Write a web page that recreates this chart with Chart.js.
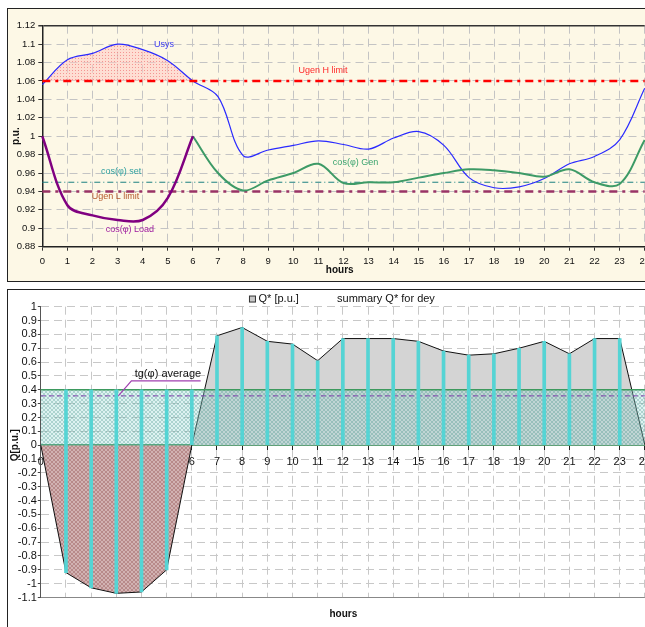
<!DOCTYPE html>
<html>
<head>
<meta charset="utf-8">
<title>Usys / cos(φ) / Q*</title>
<script src="https://cdn.jsdelivr.net/npm/chart.js@4.4.0/dist/chart.umd.min.js"></script>
<style>
html, body { margin: 0; padding: 0; background: #fff; overflow: hidden; width: 645px; height: 627px; }
#topBox { position: absolute; left: 7px; top: 8px; width: 660px; height: 272px; background: #fdf8e6; border: 1px solid #222; }
#bottomBox { position: absolute; left: 7px; top: 289px; width: 660px; height: 345px; background: #fff; border: 1px solid #222; }
canvas { display: block; }
</style>
</head>
<body>
<div id="topBox"><canvas id="topChart" width="660" height="272"></canvas></div>
<div id="bottomBox"><canvas id="bottomChart" width="660" height="340"></canvas></div>
<script>
// hours of the day
const hours = ['0','1','2','3','4','5','6','7','8','9','10','11','12','13','14','15','16','17','18','19','20','21','22','23','24'];

// upper chart, p.u.
const uSys    = [1.056, 1.083, 1.090, 1.100, 1.094, 1.082, 1.060, 1.043, 0.979, 0.985, 0.990, 0.995, 0.991, 0.986, 0.998, 1.005, 0.990, 0.955, 0.944, 0.945, 0.954, 0.970, 0.978, 0.996, 1.052];
const cosGen  = [null, null, null, null, null, null, 1.000, 0.960, 0.941, 0.952, 0.960, 0.970, 0.949, 0.950, 0.950, 0.955, 0.960, 0.964, 0.963, 0.960, 0.956, 0.964, 0.950, 0.948, 0.996];
const cosLoad = [1.000, 0.925, 0.914, 0.909, 0.909, 0.933, 1.000, null, null, null, null, null, null, null, null, null, null, null, null, null, null, null, null, null, null];
const uGenHigh = 1.06;
const uGenLow = 0.94;
const cosSet = 0.95;

// lower chart, p.u.
const qStar = [0, -0.92, -1.03, -1.07, -1.06, -0.90, 0, 0.79, 0.85, 0.75, 0.73, 0.61, 0.77, 0.77, 0.77, 0.75, 0.68, 0.65, 0.66, 0.70, 0.75, 0.66, 0.77, 0.77, 0];
const tgBand = 0.4;
const tgAverage = 0.356;

const FONT = '"Liberation Sans", Arial, sans-serif';

function pattern(canvasId, size, bg, fg, cells) {
    const tile = document.createElement('canvas');
    tile.width = tile.height = size;
    const g = tile.getContext('2d');
    g.fillStyle = bg;
    g.fillRect(0, 0, size, size);
    g.fillStyle = fg;
    cells.forEach(c => g.fillRect(c[0], c[1], 1, 1));
    return document.getElementById(canvasId).getContext('2d').createPattern(tile, 'repeat');
}
const cross = [[0,0],[1,1],[2,2],[3,3],[3,0],[2,1],[1,2],[0,3]];

// text, leader lines and the little legend box, placed in data units
function notes(items) {
    return {
        id: 'notes',
        afterDraw(chart) {
            const ctx = chart.ctx;
            const xs = chart.scales.x, ys = chart.scales.y;
            ctx.save();
            items.forEach(it => {
                if (it.line) {
                    ctx.strokeStyle = it.color;
                    ctx.lineWidth = it.width || 1;
                    ctx.beginPath();
                    it.line.forEach((p, i) => {
                        const px = xs.getPixelForValue(p[0]), py = ys.getPixelForValue(p[1]);
                        if (i === 0) ctx.moveTo(px, py); else ctx.lineTo(px, py);
                    });
                    ctx.stroke();
                    return;
                }
                const px = xs.getPixelForValue(it.x), py = ys.getPixelForValue(it.y);
                if (it.box) {
                    ctx.fillStyle = '#c8c8c8';
                    ctx.strokeStyle = '#333';
                    ctx.lineWidth = 1;
                    ctx.fillRect(px, py, it.box, it.box);
                    ctx.strokeRect(px, py, it.box, it.box);
                    return;
                }
                ctx.fillStyle = it.color || '#000';
                ctx.font = it.font;
                ctx.textAlign = it.align || 'center';
                ctx.textBaseline = 'middle';
                if (it.rotate) {
                    ctx.save();
                    ctx.translate(px, py);
                    ctx.rotate(-Math.PI / 2);
                    ctx.fillText(it.text, 0, 0);
                    ctx.restore();
                } else {
                    ctx.fillText(it.text, px, py);
                }
            });
            ctx.restore();
        }
    };
}

const fmt = v => String(Math.round(v * 100) / 100);

// ---------- upper chart ----------
const pinkDots = pattern('topChart', 3, 'rgba(255,200,195,0.55)', 'rgba(240,120,120,0.7)', [[1,1]]);

const topNotes = [
    { text: 'Usys', x: 4.85, y: 1.0998, color: '#3a3af0', font: '9px ' + FONT },
    { text: 'Ugen H limit', x: 11.18, y: 1.0718, color: '#ff2a2a', font: '9px ' + FONT },
    { text: 'cos(φ) set', x: 3.14, y: 0.962, color: '#2f9f9f', font: '9px ' + FONT },
    { text: 'Ugen L limit', x: 2.92, y: 0.934, color: '#b4582c', font: '9px ' + FONT },
    { text: 'cos(φ) Load', x: 3.49, y: 0.8987, color: '#a020a0', font: '9px ' + FONT },
    { text: 'cos(φ) Gen', x: 12.48, y: 0.9715, color: '#3aa46e', font: '9px ' + FONT },
    { text: 'hours', x: 11.85, y: 0.854, color: '#111', font: 'bold 10px ' + FONT },
    { text: 'p.u.', x: -1.02, y: 1.0, color: '#111', font: 'bold 10px ' + FONT, rotate: true }
];

new Chart(document.getElementById('topChart'), {
    type: 'line',
    data: {
        labels: hours,
        datasets: [
            { label: 'cos(φ) Load', data: cosLoad, borderColor: '#800080', borderWidth: 2.5, order: 0 },
            { label: 'Ugen H limit', data: hours.map(() => uGenHigh), borderColor: '#ff0000', borderWidth: 2.5, borderDash: [8, 5, 3, 5], tension: 0, order: 1 },
            { label: 'cos(φ) Gen', data: cosGen, borderColor: '#3d9a66', borderWidth: 2, order: 2 },
            { label: 'Usys', data: uSys, borderColor: '#2a2aff', borderWidth: 1.2, order: 3,
              fill: { target: { value: uGenHigh }, above: pinkDots, below: 'rgba(0,0,0,0)' } },
            { label: 'Ugen L limit', data: hours.map(() => uGenLow), borderColor: '#993366', borderWidth: 2.5, borderDash: [8, 5, 3, 5], tension: 0, order: 4 },
            { label: 'cos(φ) set', data: hours.map(() => cosSet), borderColor: '#1a8080', borderWidth: 1, borderDash: [6, 3, 1, 3], tension: 0, order: 5 }
        ]
    },
    options: {
        responsive: false,
        animation: false,
        events: [],
        elements: { point: { radius: 0 }, line: { tension: 0.35, fill: false } },
        layout: { padding: { left: 0, right: 23.3, top: 16.7, bottom: 0 } },
        plugins: { legend: { display: false }, tooltip: { enabled: false } },
        scales: {
            x: {
                grid: { color: '#c4c4c4', tickLength: 4, tickColor: '#333' },
                border: { color: '#222', width: 1.5, dash: [8, 5] },
                ticks: { font: { family: FONT, size: 9.5 }, color: '#111', padding: 5, maxRotation: 0, autoSkip: false },
                afterFit: s => { s.height = 34.3; }
            },
            y: {
                min: 0.88,
                max: 1.12,
                grid: {
                    color: c => (c.tick && c.tick.value > 1.119 ? '#333' : '#c4c4c4'),
                    lineWidth: c => (c.tick && c.tick.value > 1.119 ? 1.5 : 1),
                    tickLength: 4,
                    tickColor: '#333'
                },
                border: { color: '#222', width: 1.5, dash: c => (c.tick && c.tick.value > 1.119 ? [] : [8, 5]) },
                ticks: { stepSize: 0.02, autoSkip: false, callback: fmt, font: { family: FONT, size: 9.5 }, color: '#111', padding: 3 },
                afterFit: s => { s.width = 34.3; }
            }
        }
    },
    plugins: [notes(topNotes)]
});

// ---------- lower chart ----------
const redHatch = pattern('bottomChart', 4, '#d2b2b2', '#b88a8a', cross);
const bandHatch = pattern('bottomChart', 4, 'rgba(150,215,210,0.32)', 'rgba(60,140,130,0.30)', cross);

const bottomNotes = [
    { box: 6, x: 8.29, y: 1.077 },
    { text: 'Q* [p.u.]', x: 8.65, y: 1.056, color: '#111', font: '11px ' + FONT, align: 'left' },
    { text: 'summary Q* for dey', x: 11.77, y: 1.056, color: '#111', font: '11px ' + FONT, align: 'left' },
    { line: [[3.08, tgAverage], [3.60, 0.465], [6.35, 0.465]], color: '#a040b0', width: 1.2 },
    { text: 'tg(φ) average', x: 5.05, y: 0.513, color: '#111', font: '11px ' + FONT },
    { text: 'hours', x: 12.02, y: -1.222, color: '#111', font: 'bold 10px ' + FONT },
    { text: 'Q[p.u.]', x: -1.03, y: 0, color: '#111', font: 'bold 10px ' + FONT, rotate: true }
];

new Chart(document.getElementById('bottomChart'), {
    type: 'line',
    data: {
        labels: hours,
        datasets: [
            { type: 'bar', label: 'Q* bars',
              data: qStar.map((q, i) => (i === 0 || i === qStar.length - 1 ? null : [Math.min(q, 0), Math.max(q, tgBand)])),
              backgroundColor: '#55d4d4', barThickness: 3, order: 0 },
            { label: 'tg(φ) average', data: hours.map(() => tgAverage), borderColor: '#7a3aa8', borderWidth: 1, borderDash: [5, 3], order: 1 },
            { label: 'tg band', data: hours.map(() => tgBand), borderColor: '#3d9a5e', borderWidth: 1.5,
              fill: 'origin', backgroundColor: bandHatch, order: 2 },
            { label: 'Q* [p.u.]', data: qStar, borderColor: '#111', borderWidth: 1, order: 3,
              fill: { target: 'origin', above: '#d4d4d4', below: redHatch } }
        ]
    },
    options: {
        responsive: false,
        animation: false,
        events: [],
        elements: { point: { radius: 0 }, line: { tension: 0, fill: false } },
        layout: { padding: { left: 0, right: 23.1, top: 16.7, bottom: 32.5 } },
        plugins: { legend: { display: false }, tooltip: { enabled: false } },
        scales: {
            x: {
                position: { y: 0 },
                offset: false,
                grid: { offset: false, color: '#c8c8c8', tickLength: 4, tickColor: '#222' },
                border: { color: '#3d9a5e', width: 2, dash: [8, 5] },
                ticks: { font: { family: FONT, size: 11, lineHeight: 1.7 }, color: '#111', maxRotation: 0, autoSkip: false }
            },
            y: {
                min: -1.1,
                max: 1,
                grid: {
                    color: c => (c.tick && c.tick.value < -1.09 ? '#888' : '#c8c8c8'),
                    tickLength: 3,
                    tickColor: '#444'
                },
                border: { color: '#555', width: 1, dash: c => (c.tick && c.tick.value < -1.09 ? [] : [8, 5]) },
                ticks: { stepSize: 0.1, autoSkip: false, callback: fmt, font: { family: FONT, size: 11 }, color: '#111', padding: 1 },
                afterFit: s => { s.width = 32.8; }
            }
        }
    },
    plugins: [notes(bottomNotes)]
});
</script>
</body>
</html>
